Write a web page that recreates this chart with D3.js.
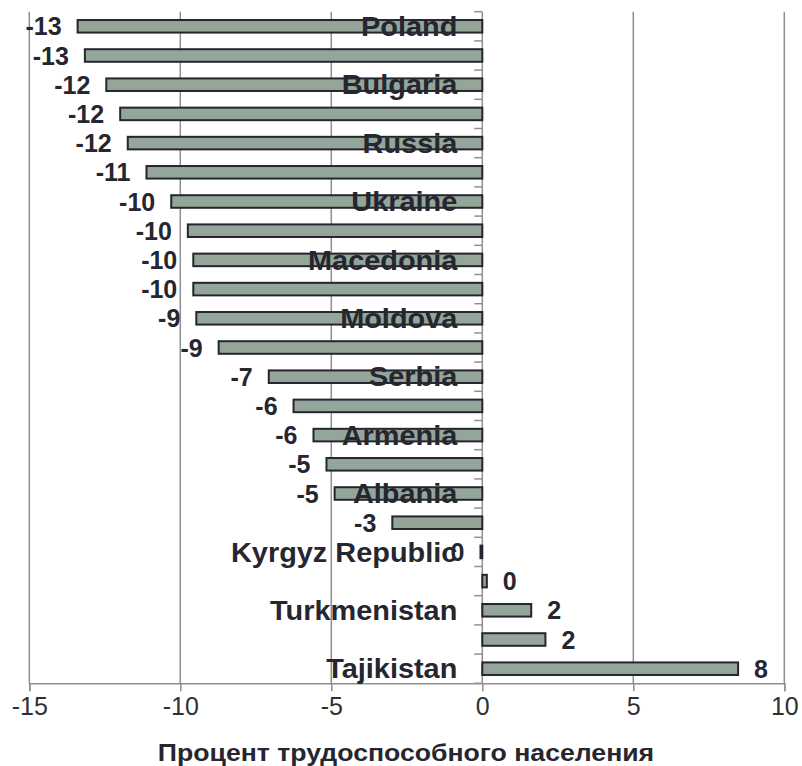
<!DOCTYPE html>
<html>
<head>
<meta charset="utf-8">
<script src="https://cdn.jsdelivr.net/npm/d3@7"></script>
<style>
  html, body { margin: 0; padding: 0; background: #fff; }
  svg { display: block; font-family: "Liberation Sans", Arial, sans-serif; }
</style>
</head>
<body>
<svg id="chart" width="802" height="766"></svg>
<script>
const categories = [
  "Poland", "Lithuania", "Bulgaria", "Latvia", "Russia", "Croatia",
  "Ukraine", "Romania", "Macedonia", "Estonia", "Moldova", "Hungary",
  "Serbia", "Belarus", "Armenia", "Georgia", "Albania", "Montenegro",
  "Kyrgyz Republic", "Kazakhstan", "Turkmenistan", "Uzbekistan", "Tajikistan"
];
const values = [
  -13.40, -13.16, -12.45, -11.99, -11.74, -11.12,
  -10.30, -9.75, -9.57, -9.57, -9.47, -8.73,
  -7.07, -6.25, -5.59, -5.16, -4.89, -2.98,
  -0.06, 0.15, 1.62, 2.09, 8.47
];
const xTicks = [-15, -10, -5, 0, 5, 10];
const xTitle = "Процент трудоспособного населения";

const data = categories.map((c, i) => ({ cat: c, val: values[i], i }));

const svg = d3.select("#chart");
const plot = { left: 29.3, right: 784.3, top: 11.7, bottom: 683.3 };

const x = d3.scaleLinear().domain([-15, 10]).range([plot.left, plot.right]);
const y = d3.scaleBand().domain(categories).range([plot.top, plot.bottom])
  .paddingInner(0.57).paddingOuter(0.285);

const gridColor = "#8f8f8f";
const textColor = "#262630";
const fmt = v => String(Math.round(v)).replace("\u2212", "-");

// Vertical gridlines
svg.append("g").selectAll("line").data(xTicks.filter(t => t !== 0)).join("line")
  .attr("x1", d => x(d)).attr("x2", d => x(d))
  .attr("y1", plot.top).attr("y2", plot.bottom)
  .attr("stroke", gridColor).attr("stroke-width", 1.5);

// X axis
const xAxis = d3.axisBottom(x).tickValues(xTicks).tickSize(8).tickPadding(6)
  .tickFormat(d => String(d));
const gx = svg.append("g").attr("transform", `translate(0,${plot.bottom})`).call(xAxis);
gx.select(".domain").attr("stroke", gridColor).attr("stroke-width", 1.5);
gx.selectAll(".tick line").attr("stroke", gridColor).attr("stroke-width", 1.5);
gx.selectAll(".tick text").attr("font-size", 25).attr("fill", "#303030")
  .attr("font-family", "Liberation Sans, Arial, sans-serif");

// Zero axis with ticks at band boundaries
const step = y.step();
const boundaries = d3.range(categories.length + 1).map(k => plot.top + k * step);
svg.append("line")
  .attr("x1", x(0)).attr("x2", x(0))
  .attr("y1", plot.top).attr("y2", plot.bottom)
  .attr("stroke", gridColor).attr("stroke-width", 1.5);
svg.append("g").selectAll("line").data(boundaries).join("line")
  .attr("x1", x(0) - 8).attr("x2", x(0))
  .attr("y1", d => d).attr("y2", d => d)
  .attr("stroke", gridColor).attr("stroke-width", 1.5);

// Bars
svg.append("g").selectAll("rect").data(data).join("rect")
  .attr("x", d => x(Math.min(0, d.val)))
  .attr("width", d => Math.max(0.5, Math.abs(x(d.val) - x(0))))
  .attr("y", d => y(d.cat))
  .attr("height", y.bandwidth())
  .attr("fill", "#94a599")
  .attr("stroke", "#252530")
  .attr("stroke-width", 2);

// Category labels (every other), drawn over bars
svg.append("g").selectAll("text").data(data.filter(d => d.i % 2 === 0)).join("text")
  .attr("transform", d => `translate(${x(0) - 25},${y(d.cat) + y.bandwidth() / 2}) scale(1.07,1)`)
  .attr("dy", "0.36em")
  .attr("text-anchor", "end")
  .attr("font-size", 27).attr("font-weight", "bold").attr("fill", textColor)
  .text(d => d.cat);

// Data labels
svg.append("g").selectAll("text").data(data).join("text")
  .attr("x", d => d.val < 0 ? x(d.val) - 16 : x(d.val) + 16)
  .attr("y", d => y(d.cat) + y.bandwidth() / 2)
  .attr("dy", "0.36em")
  .attr("text-anchor", d => d.val < 0 ? "end" : "start")
  .attr("font-size", 25).attr("font-weight", "bold").attr("fill", textColor)
  .text(d => fmt(d.val));

// Axis title
svg.append("text")
  .attr("transform", "translate(406,761) scale(1.11,1)")
  .attr("text-anchor", "middle")
  .attr("font-size", 24).attr("font-weight", "bold").attr("fill", textColor)
  .text(xTitle);
</script>
</body>
</html>
